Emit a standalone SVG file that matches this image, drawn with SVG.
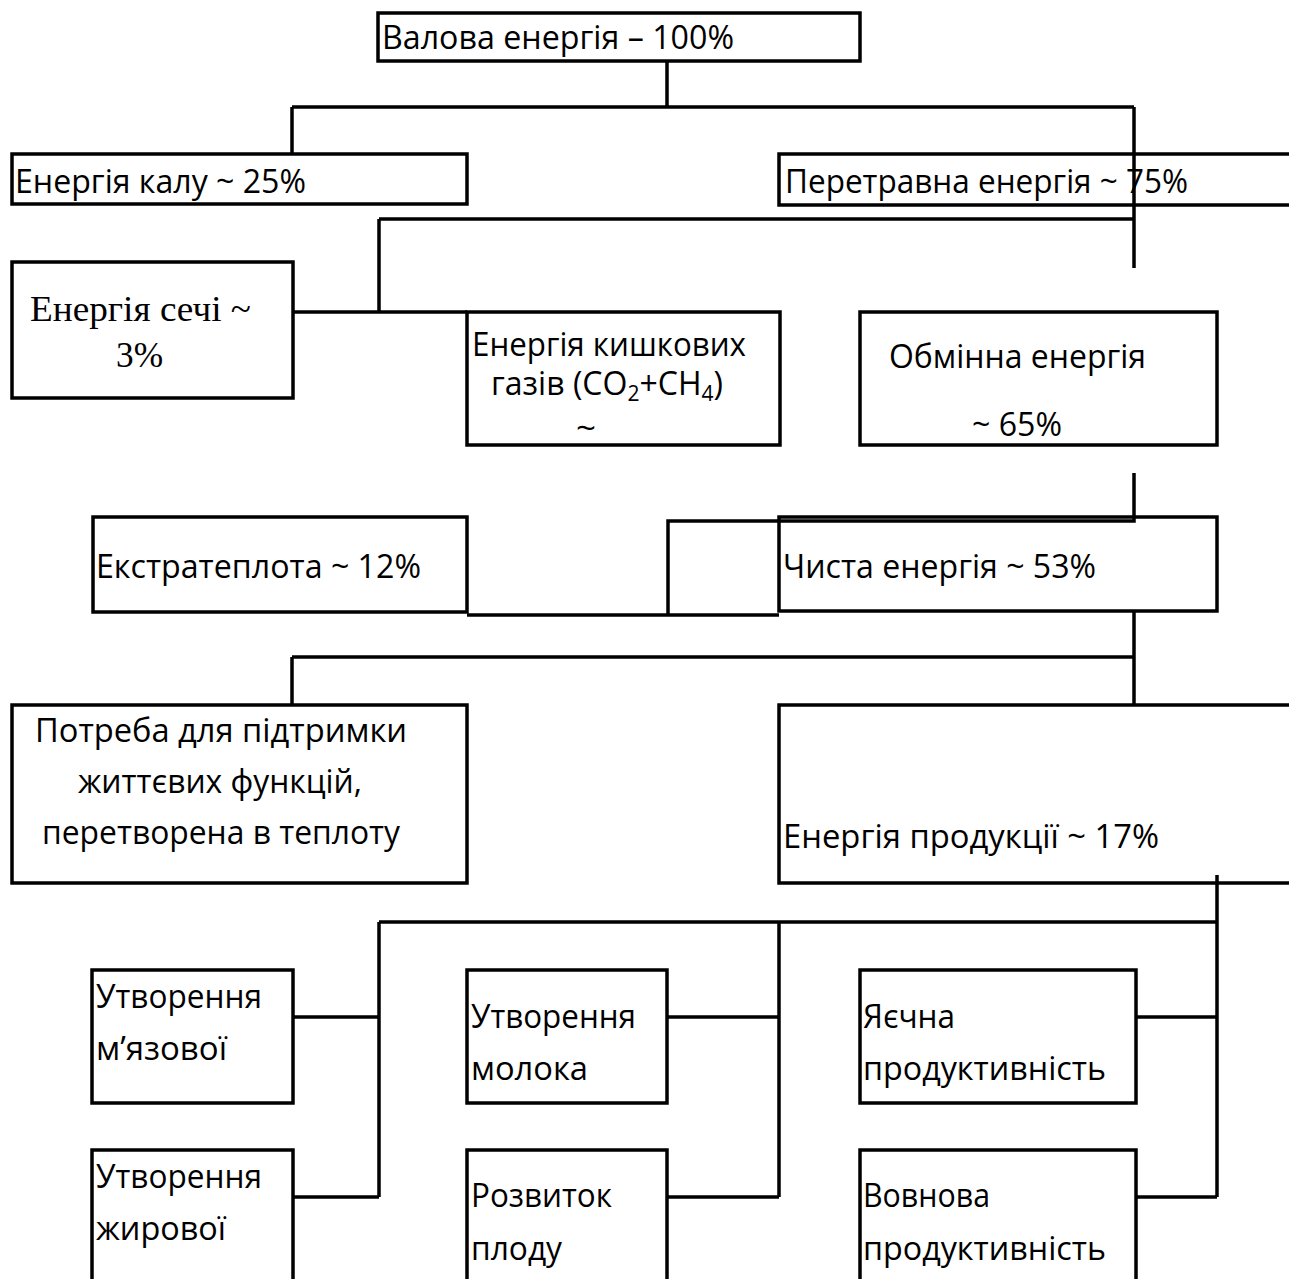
<svg xmlns="http://www.w3.org/2000/svg" width="1289" height="1279" viewBox="0 0 1289 1279">
<style>
.b{fill:none;stroke:#000;stroke-width:3.5}
.c{fill:none;stroke:#000;stroke-width:3.5}
.t{font-family:"Open Sans","Noto Sans","DejaVu Sans",sans-serif;font-size:32px;fill:#000}
.s{font-family:"Liberation Serif","Times New Roman",serif;font-size:35px;fill:#000}
</style>
<rect width="1289" height="1279" fill="#fff"/>
<g id="n1"><rect class="b" x="378" y="13" width="482" height="48"/><text class="t" x="382" y="49" textLength="352" lengthAdjust="spacingAndGlyphs">Валова енергія – 100%</text></g>
<g id="n2"><rect class="b" x="12" y="154" width="455" height="50"/><text class="t" x="15" y="193" textLength="291" lengthAdjust="spacingAndGlyphs">Енергія калу ~ 25%</text></g>
<g id="n3"><rect class="b" x="779" y="154" width="530" height="51"/><text class="t" x="785" y="193" textLength="403" lengthAdjust="spacingAndGlyphs">Перетравна енергія ~ 75%</text></g>
<g id="n4"><rect class="b" x="12" y="262" width="281" height="136"/><text class="s" x="30" y="321" textLength="221" lengthAdjust="spacingAndGlyphs">Енергія сечі ~</text><text class="s" x="116" y="367" textLength="47" lengthAdjust="spacingAndGlyphs">3%</text></g>
<g id="n5"><rect class="b" x="467" y="312" width="313" height="133"/><text class="t" x="472" y="356" textLength="274" lengthAdjust="spacingAndGlyphs">Енергія кишкових</text><text class="t" x="491" y="395" textLength="232" lengthAdjust="spacingAndGlyphs">газів (CO<tspan font-size="21" dy="6">2</tspan><tspan dy="-6">+CH</tspan><tspan font-size="21" dy="6">4</tspan><tspan dy="-6">)</tspan></text><text class="t" x="576" y="440" textLength="20" lengthAdjust="spacingAndGlyphs">~</text></g>
<g id="n6"><rect class="b" x="860" y="312" width="357" height="133"/><text class="t" x="889" y="368" textLength="257" lengthAdjust="spacingAndGlyphs">Обмінна енергія</text><text class="t" x="972" y="436" textLength="90" lengthAdjust="spacingAndGlyphs">~ 65%</text></g>
<g id="n7"><rect class="b" x="93" y="517" width="374" height="95"/><text class="t" x="96" y="578" textLength="325" lengthAdjust="spacingAndGlyphs">Екстратеплота ~ 12%</text></g>
<g id="n8"><rect class="b" x="779" y="517" width="438" height="94"/><text class="t" x="783" y="578" textLength="313" lengthAdjust="spacingAndGlyphs">Чиста енергія ~ 53%</text></g>
<g id="n9"><rect class="b" x="12" y="705" width="455" height="178"/><text class="t" x="35" y="742" textLength="372" lengthAdjust="spacingAndGlyphs">Потреба для підтримки</text><text class="t" x="78" y="793" textLength="284" lengthAdjust="spacingAndGlyphs">життєвих функцій,</text><text class="t" x="42" y="844" textLength="358" lengthAdjust="spacingAndGlyphs">перетворена в теплоту</text></g>
<g id="n10"><rect class="b" x="779" y="705" width="530" height="178"/><text class="t" x="783" y="848" textLength="376" lengthAdjust="spacingAndGlyphs">Енергія продукції ~ 17%</text></g>
<g id="n11"><rect class="b" x="92" y="970" width="201" height="133"/><text class="t" x="96" y="1008" textLength="166" lengthAdjust="spacingAndGlyphs">Утворення</text><text class="t" x="96" y="1060" textLength="131" lengthAdjust="spacingAndGlyphs">м’язової</text></g>
<g id="n12"><rect class="b" x="467" y="970" width="200" height="133"/><text class="t" x="471" y="1028" textLength="165" lengthAdjust="spacingAndGlyphs">Утворення</text><text class="t" x="471" y="1080" textLength="117" lengthAdjust="spacingAndGlyphs">молока</text></g>
<g id="n13"><rect class="b" x="860" y="970" width="276" height="133"/><text class="t" x="863" y="1028" textLength="92" lengthAdjust="spacingAndGlyphs">Яєчна</text><text class="t" x="863" y="1080" textLength="243" lengthAdjust="spacingAndGlyphs">продуктивність</text></g>
<g id="n14"><rect class="b" x="92" y="1150" width="201" height="150"/><text class="t" x="96" y="1188" textLength="166" lengthAdjust="spacingAndGlyphs">Утворення</text><text class="t" x="96" y="1240" textLength="130" lengthAdjust="spacingAndGlyphs">жирової</text></g>
<g id="n15"><rect class="b" x="467" y="1150" width="200" height="150"/><text class="t" x="471" y="1207" textLength="141" lengthAdjust="spacingAndGlyphs">Розвиток</text><text class="t" x="471" y="1260" textLength="91" lengthAdjust="spacingAndGlyphs">плоду</text></g>
<g id="n16"><rect class="b" x="860" y="1150" width="276" height="150"/><text class="t" x="863" y="1207" textLength="127" lengthAdjust="spacingAndGlyphs">Вовнова</text><text class="t" x="863" y="1260" textLength="243" lengthAdjust="spacingAndGlyphs">продуктивність</text></g>
<g id="connectors">
<path class="c" d="M667 61V107M292 107H1134M292 107V154M1134 107V268"/>
<path class="c" d="M379 219H1134M379 219V312M293 312H467"/>
<path class="c" d="M1134 473V521H668V615M467 615H779"/>
<path class="c" d="M1134 611V705M292 657H1134M292 657V705"/>
<path class="c" d="M1217 875V1197M379 922H1217M379 922V1197M779 922V1197"/>
<path class="c" d="M293 1017H379M667 1017H779M1136 1017H1217M293 1197H379M667 1197H779M1136 1197H1217"/>
</g>
</svg>
